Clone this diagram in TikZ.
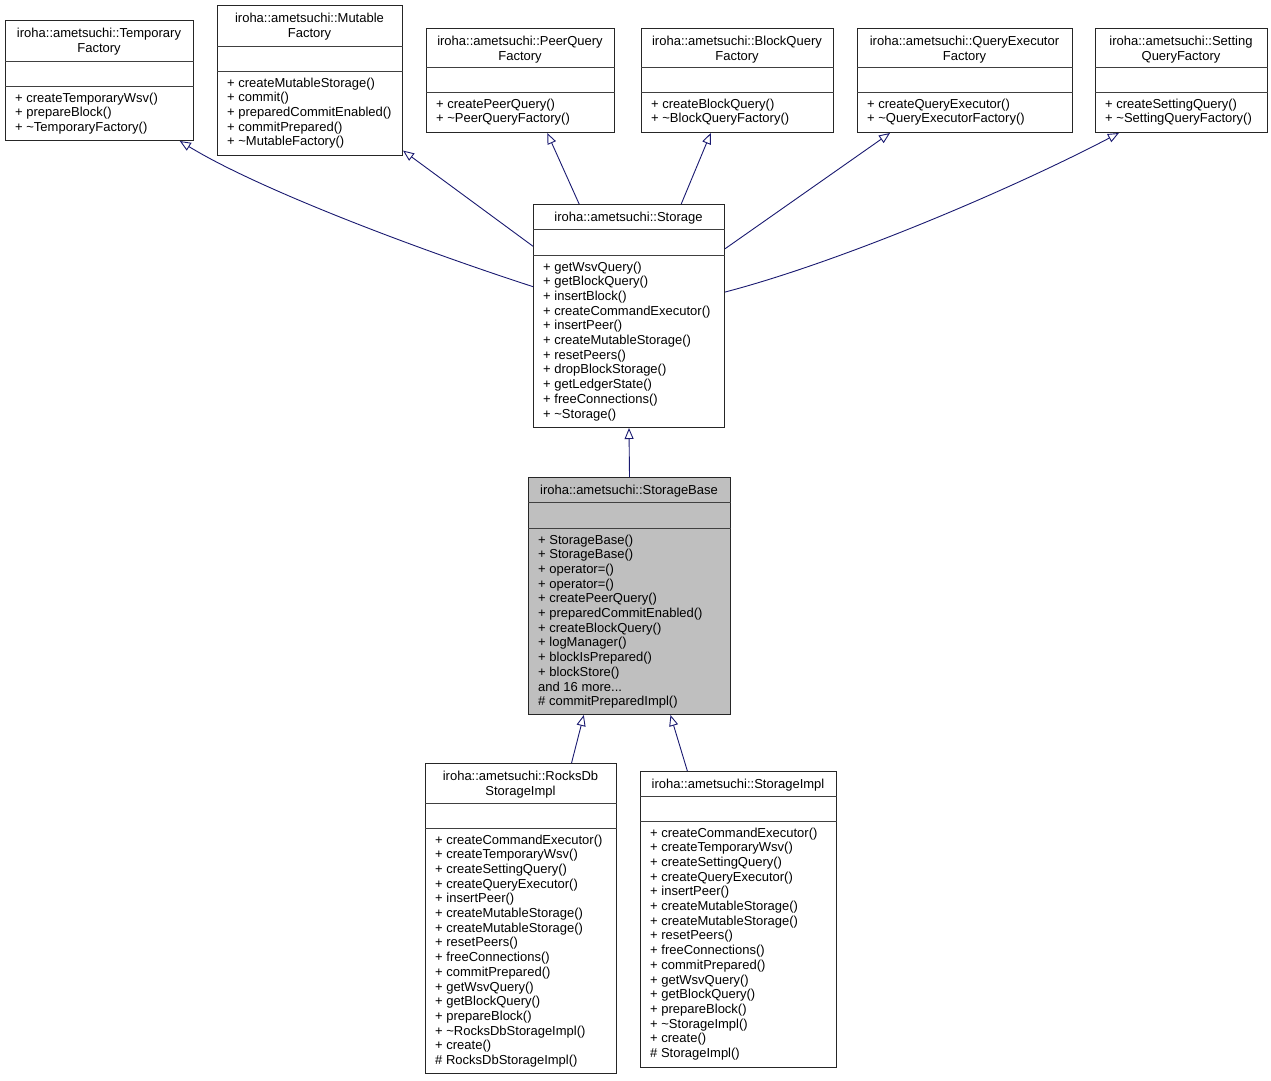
\documentclass[tikz,border=0pt]{standalone}
\usepackage{fontspec}
\setmainfont{Liberation Sans}
\usetikzlibrary{arrows.meta}
\definecolor{edgeblue}{RGB}{25,25,112}

\begin{document}
\begin{tikzpicture}[
    x=1pt, y=-1pt, % 1pt = 1像素，y 轴向下
    cls/.style={draw=black!85, line width=1pt, anchor=north west, inner sep=0pt},
    sep/.style={draw=black!75, line width=1pt},
    txt/.style={font=\fontsize{13pt}{15pt}\selectfont, inner sep=0pt},
    title/.style={txt, anchor=base},
    member/.style={txt, anchor=base west},
    inh/.style={draw=edgeblue, line width=0.9pt, -{Triangle[open, length=11pt, width=9pt]}}
]
    \useasboundingbox (0,0) rectangle (1271,1080);

    % 类框：名字/左/上/宽/高/分隔线1/分隔线2/填充
    \foreach \n/\x/\y/\w/\h/\a/\b/\c in {
        temporary/5/20/188/120/41/66/white,
        mutable/217/5/185/150/41/66/white,
        peer/426/28/188/104/39/64/white,
        block/641/28/192/104/39/64/white,
        executor/857/28/215/104/39/64/white,
        setting/1095/28/172/104/39/64/white,
        storage/533/204/191/223/25/51/white,
        storagebase/528/477/202/237/25/51/lightgray,
        rocksdb/425/763/191/310/40/65/white,
        storageimpl/640/771/196/296/25/50/white} {
        \node[cls, fill=\c, minimum width=\w pt, minimum height=\h pt] (\n) at (\x,\y) {};
        \draw[sep] ([yshift=-\a pt]\n.north west) -- ([yshift=-\a pt]\n.north east);
        \draw[sep] ([yshift=-\b pt]\n.north west) -- ([yshift=-\b pt]\n.north east);
    }

    % 类名（居中）
    \foreach \n/\x/\y/\s in {
        temporary-t1/99/37/iroha::ametsuchi::Temporary, temporary-t2/99/52/Factory,
        mutable-t1/309.5/22/iroha::ametsuchi::Mutable, mutable-t2/309.5/37/Factory,
        peer-t1/520/45/iroha::ametsuchi::PeerQuery, peer-t2/520/60/Factory,
        block-t1/737/45/iroha::ametsuchi::BlockQuery, block-t2/737/60/Factory,
        executor-t1/964.5/45/iroha::ametsuchi::QueryExecutor, executor-t2/964.5/60/Factory,
        setting-t1/1181/45/iroha::ametsuchi::Setting, setting-t2/1181/60/QueryFactory,
        storage-t1/628.5/221/iroha::ametsuchi::Storage,
        storagebase-t1/629/494/iroha::ametsuchi::StorageBase,
        rocksdb-t1/520.5/780/iroha::ametsuchi::RocksDb, rocksdb-t2/520.5/795/StorageImpl,
        storageimpl-t1/738/788/iroha::ametsuchi::StorageImpl} {
        \node[title] (\n) at (\x,\y) {\s};
    }

    % 成员函数
    \foreach \m [count=\i from 0] in {+ createTemporaryWsv(), + prepareBlock(), + \textasciitilde TemporaryFactory()}
        \node[member] (temporary-m\i) at (15,{102+14.7*\i}) {\m};
    \foreach \m [count=\i from 0] in {+ createMutableStorage(), + commit(), + preparedCommitEnabled(),
        + commitPrepared(), + \textasciitilde MutableFactory()}
        \node[member] (mutable-m\i) at (227,{87+14.7*\i}) {\m};
    \foreach \m [count=\i from 0] in {+ createPeerQuery(), + \textasciitilde PeerQueryFactory()}
        \node[member] (peer-m\i) at (436,{108+14.7*\i}) {\m};
    \foreach \m [count=\i from 0] in {+ createBlockQuery(), + \textasciitilde BlockQueryFactory()}
        \node[member] (block-m\i) at (651,{108+14.7*\i}) {\m};
    \foreach \m [count=\i from 0] in {+ createQueryExecutor(), + \textasciitilde QueryExecutorFactory()}
        \node[member] (executor-m\i) at (867,{108+14.7*\i}) {\m};
    \foreach \m [count=\i from 0] in {+ createSettingQuery(), + \textasciitilde SettingQueryFactory()}
        \node[member] (setting-m\i) at (1105,{108+14.7*\i}) {\m};
    \foreach \m [count=\i from 0] in {+ getWsvQuery(), + getBlockQuery(), + insertBlock(),
        + createCommandExecutor(), + insertPeer(), + createMutableStorage(), + resetPeers(),
        + dropBlockStorage(), + getLedgerState(), + freeConnections(), + \textasciitilde Storage()}
        \node[member] (storage-m\i) at (543,{271+14.7*\i}) {\m};
    \foreach \m [count=\i from 0] in {+ StorageBase(), + StorageBase(), + operator=(), + operator=(),
        + createPeerQuery(), + preparedCommitEnabled(), + createBlockQuery(), + logManager(),
        + blockIsPrepared(), + blockStore(), and 16 more.{}.{}., \# commitPreparedImpl()}
        \node[member] (storagebase-m\i) at (538,{544+14.7*\i}) {\m};
    \foreach \m [count=\i from 0] in {+ createCommandExecutor(), + createTemporaryWsv(),
        + createSettingQuery(), + createQueryExecutor(), + insertPeer(), + createMutableStorage(),
        + createMutableStorage(), + resetPeers(), + freeConnections(), + commitPrepared(),
        + getWsvQuery(), + getBlockQuery(), + prepareBlock(), + \textasciitilde RocksDbStorageImpl(),
        + create(), \# RocksDbStorageImpl()}
        \node[member] (rocksdb-m\i) at (435,{844+14.7*\i}) {\m};
    \foreach \m [count=\i from 0] in {+ createCommandExecutor(), + createTemporaryWsv(),
        + createSettingQuery(), + createQueryExecutor(), + insertPeer(), + createMutableStorage(),
        + createMutableStorage(), + resetPeers(), + freeConnections(), + commitPrepared(),
        + getWsvQuery(), + getBlockQuery(), + prepareBlock(), + \textasciitilde StorageImpl(),
        + create(), \# StorageImpl()}
        \node[member] (storageimpl-m\i) at (650,{837+14.7*\i}) {\m};

    % 继承箭头
    \draw[inh] (storage.163) .. controls (420,250) and (260,190) .. (temporary.-37);
    \draw[inh] (storage.144) -- (mutable.-37);
    \draw[inh] (storage.114) -- (peer.-63);
    \draw[inh] (storage.65) -- (block.-117);
    \draw[inh] (storage.35) -- (executor.-145);
    \draw[inh] (storage.14) .. controls (840,262) and (1010,190) .. (setting.-140);
    \draw[inh] (storagebase.north) -- (storage.south);
    \draw[inh] (rocksdb.72) -- (storagebase.-111);
    \draw[inh] (storageimpl.109) -- (storagebase.-71);
\end{tikzpicture}
\end{document}
